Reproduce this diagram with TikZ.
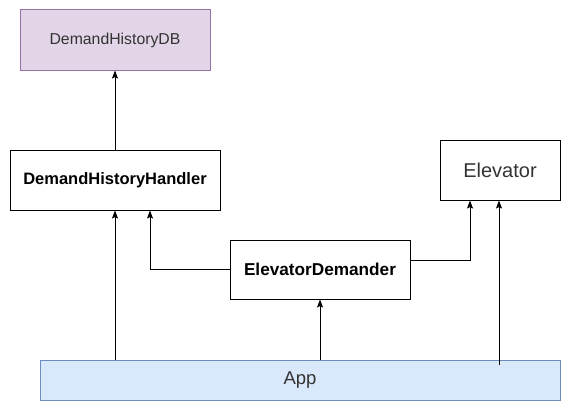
\documentclass[tikz,border=0pt]{standalone}
\usepackage{fontspec}
\setmainfont{Liberation Sans}
\usetikzlibrary{arrows.meta}
\definecolor{dbfill}{HTML}{E1D5E7}
\definecolor{dbline}{HTML}{9673A6}
\definecolor{appfill}{HTML}{DAE8FC}
\definecolor{appline}{HTML}{6C8EBF}
\definecolor{txtgray}{HTML}{333333}
\tikzset{
  box/.style={draw=black, line width=1pt, fill=white, inner sep=0pt, align=center},
  arr/.style={draw=black, line width=0.9pt, -{Stealth[length=8pt,width=6pt,inset=1.5pt]}},
}
\begin{document}
\begin{tikzpicture}[x=1pt,y=-1pt]
\useasboundingbox[fill=white] (0,0) rectangle (572,412);
\node[box, draw=dbline, fill=dbfill, minimum width=190pt, minimum height=60pt,
      text=txtgray, font=\fontsize{15.8}{18}\selectfont] (DB) at (115,40) {DemandHistoryDB};
\node[box, minimum width=210pt, minimum height=60pt,
      font=\fontsize{16.5}{19}\selectfont\bfseries] (H) at (115,180) {DemandHistoryHandler};
\node[box, minimum width=120pt, minimum height=60pt,
      text=txtgray, font=\fontsize{20}{23}\selectfont] (E) at (500,170) {Elevator};
\node[box, minimum width=180pt, minimum height=59pt,
      font=\fontsize{17.2}{20}\selectfont\bfseries] (D) at (320,269.5) {ElevatorDemander};
\node[box, draw=appline, fill=appfill, minimum width=520pt, minimum height=40pt,
      text=txtgray, font=\fontsize{18.5}{21}\selectfont] (A) at (300,380) {App};
\coordinate (S) at (499,365);
\draw[arr] (H.north) -- (DB.south);
\draw[arr] (A.north -| H.south) -- (H.south);
\draw[arr] (D.west) -| ([xshift=35pt]H.south);
\draw[arr] ([yshift=9.5pt]D.east) -| ([xshift=-30pt]E.south);
\draw[arr] (A.north -| D.south) -- (D.south);
\draw[arr] (S) -- (S |- E.south);
\end{tikzpicture}
\end{document}
